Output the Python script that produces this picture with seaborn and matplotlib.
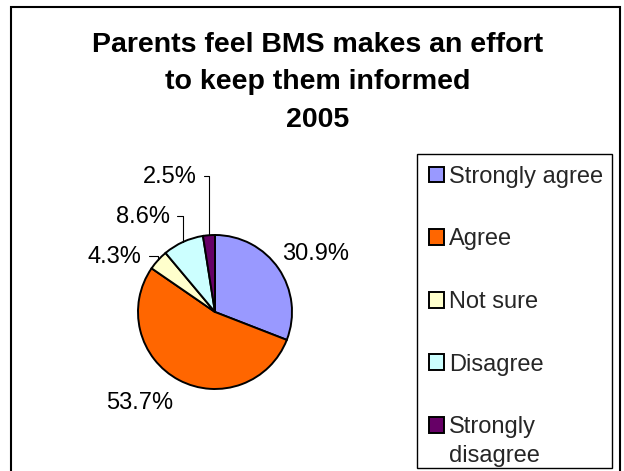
import matplotlib
matplotlib.use('Agg')
import matplotlib.pyplot as plt
import matplotlib.patches as mpatches
from matplotlib.legend_handler import HandlerPatch
import numpy as np
import seaborn as sns

categories = ['Strongly agree', 'Agree', 'Not sure', 'Disagree', 'Strongly\ndisagree']
shares = [30.9, 53.7, 4.3, 8.6, 2.5]
pct_labels = ['30.9%', '53.7%', '4.3%', '8.6%', '2.5%']
colors = ['#9999FF', '#FF6600', '#FFFFCC', '#CCFFFF', '#660066']

title_lines = ['Parents feel BMS makes an effort', 'to keep them informed', '2005']

# where each percentage label sits (in pie-radius units), alignment, leader line?
label_layout = [
    (1.31, 0.675, 'center', False),
    (-0.983, -1.264, 'center', False),
    (-0.952, 0.640, 'right', True),
    (-0.584, 1.152, 'right', True),
    (-0.238, 1.671, 'right', True),
]

sns.set_theme(style='white')
plt.rcParams['font.family'] = ['Liberation Sans', 'DejaVu Sans']

W, H = 624, 471
fig = plt.figure(figsize=(W / 100, H / 100), dpi=100)

# pie axes: centre at (215, 312) px, radius 77 px
R = 77
cx, cy = 215, 312
ax = fig.add_axes([(cx - 2 * R) / W, (H - cy - 2 * R) / H, 4 * R / W, 4 * R / H])

wedges, _ = ax.pie(
    shares,
    colors=colors,
    startangle=90,
    counterclock=False,
    radius=1,
    wedgeprops=dict(edgecolor='black', linewidth=1.4),
)
ax.set_xlim(-2, 2)
ax.set_ylim(-2, 2)
ax.set_axis_off()

for w, lab, (lx, ly, ha, leader) in zip(wedges, pct_labels, label_layout):
    mid = np.deg2rad((w.theta1 + w.theta2) / 2)
    edge = (np.cos(mid), np.sin(mid))
    if leader:
        ax.annotate(
            lab, xy=edge, xytext=(lx, ly), ha=ha, va='baseline', fontsize=17,
            color='black',
            arrowprops=dict(arrowstyle='-', color='black', lw=0.8,
                            connectionstyle='angle,angleA=0,angleB=90,rad=0',
                            relpos=(1.0, 0.55), shrinkA=3, shrinkB=0),
        )
    else:
        ax.text(lx, ly, lab, ha=ha, va='baseline', fontsize=17, color='black')

# title, one line at a time (baselines in px from top)
for line, base in zip(title_lines, [52, 89, 127]):
    fig.text(318 / W, 1 - base / H, line, ha='center', va='baseline',
             fontsize=20.5, fontweight='bold', color='black')


def first_line_square(legend, orig_handle, xdescent, ydescent, width, height, fontsize):
    # put the swatch beside the first line of a two-line label
    return mpatches.Rectangle((-xdescent, -ydescent + 0.7 * fontsize), width, height)


leg = fig.legend(
    wedges, categories, loc='upper left',
    bbox_to_anchor=(417 / W, 1 - 154 / H), bbox_transform=fig.transFigure,
    frameon=False, fontsize=17,
    handlelength=0.65, handleheight=0.65, handletextpad=0.2,
    borderpad=0.5, labelspacing=1.72, borderaxespad=0,
    handler_map={wedges[4]: HandlerPatch(patch_func=first_line_square)},
)
leg.get_texts()[4].set_linespacing(1.4)

# legend box, as in the original it stops just above the bottom edge
fig.patches.append(mpatches.Rectangle(
    (417 / W, 1 - 468 / H), (612 - 417) / W, (468 - 154) / H,
    transform=fig.transFigure, fill=False, edgecolor='black', linewidth=1.0))

# outer chart border
fig.patches.append(mpatches.Rectangle(
    (11 / W, -0.05), (620 - 11) / W, (H - 7) / H + 0.05,
    transform=fig.transFigure, fill=False, edgecolor='black', linewidth=1.5))

fig.savefig('out.png', dpi=100)
